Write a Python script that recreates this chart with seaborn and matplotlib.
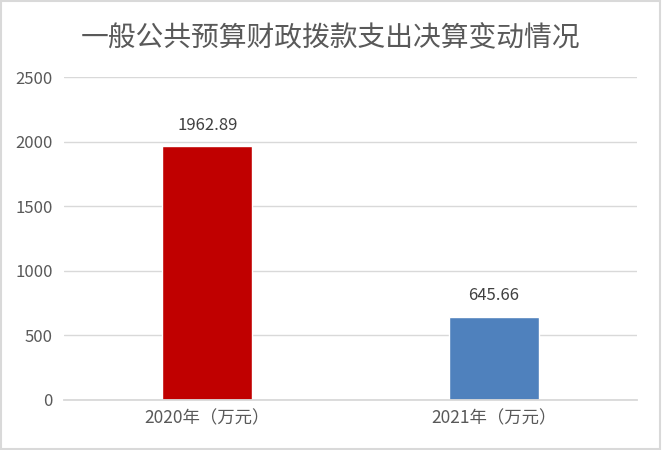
import matplotlib
matplotlib.use("Agg")
import matplotlib.pyplot as plt
import seaborn as sns
import pandas as pd
from matplotlib.patches import Rectangle

categories = ["2020年（万元）", "2021年（万元）"]
values = [1962.89, 645.66]
value_labels = ["1962.89", "645.66"]
colors = ["#C00000", "#4F81BD"]
yticks = [0, 500, 1000, 1500, 2000, 2500]
title = "一般公共预算财政拨款支出决算变动情况"

sns.set_theme(style="white")
plt.rcParams['font.family'] = ['Noto Sans CJK SC', 'DejaVu Sans']

df = pd.DataFrame({"cat": categories, "val": values})

fig = plt.figure(figsize=(6.62, 4.5), dpi=100)
ax = fig.add_axes([64/662, 1-400/450, (637-64)/662, (400-77)/450])

sns.barplot(data=df, x="cat", y="val", hue="cat", palette=colors, dodge=False,
            width=0.314, legend=False, ax=ax, saturation=1)

ax.set_ylim(0, 2500)
ax.set_yticks(yticks)
ax.set_yticklabels([str(t) for t in yticks], color="#595959", fontsize=12)
ax.set_xlim(-0.5, 1.5)
ax.tick_params(axis='x', colors="#595959", labelsize=12.5, length=0, pad=7)
ax.tick_params(axis='y', length=0, pad=8)
ax.set_xlabel("")
ax.set_ylabel("")
ax.yaxis.grid(True, color="#D9D9D9", linewidth=1)
ax.set_axisbelow(True)
for s in ["top", "right", "left"]:
    ax.spines[s].set_visible(False)
ax.spines["bottom"].set_color("#D9D9D9")
ax.spines["bottom"].set_linewidth(1.3)

for i, (v, t) in enumerate(zip(values, value_labels)):
    ax.annotate(t, (i, v), xytext=(0, 9), textcoords="offset points",
                ha="center", va="bottom", fontsize=12, color="#404040")

fig.text(0.5, 1-38/450, title, ha="center", va="center", fontsize=20,
         color="#595959", fontweight="light")

fig.patches.append(Rectangle((0.002, 0.003), 0.995, 0.994, transform=fig.transFigure,
                             fill=False, edgecolor="#D9D9D9", linewidth=1.5))

fig.savefig("out.png", dpi=100, facecolor="white")
